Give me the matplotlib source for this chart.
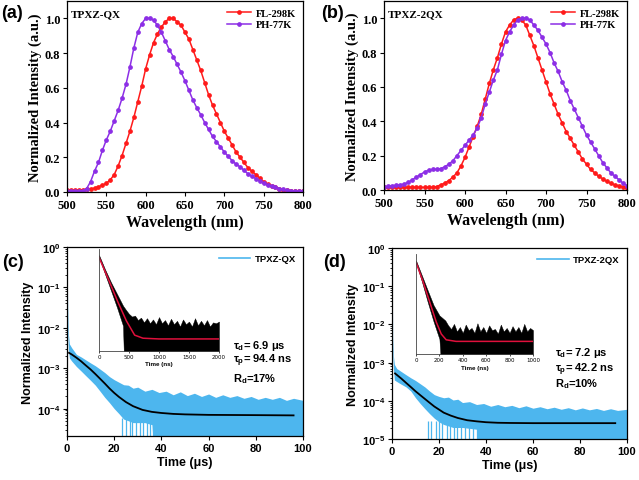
import numpy as np
import matplotlib
matplotlib.use('Agg')
import matplotlib.pyplot as plt
from matplotlib.ticker import FixedLocator, FuncFormatter, NullFormatter, LogLocator

plt.rcParams['mathtext.fontset'] = 'custom'
plt.rcParams['mathtext.rm'] = 'Liberation Sans:bold'
plt.rcParams['mathtext.it'] = 'Liberation Sans:bold'
plt.rcParams['mathtext.bf'] = 'Liberation Sans:bold'

SERIF = 'Liberation Serif'
SANS = 'Liberation Sans'
RED = '#ff1a1a'
PUR = '#8c2ee6'
CYAN = '#4db6ee'
FIT_RED = '#e0103c'

# ---------------- steady-state spectra (5 nm step) ----------------
wl = np.arange(500, 801, 5)

fl_qx = [0.01, 0.01, 0.01, 0.01, 0.012, 0.015, 0.018, 0.022, 0.03, 0.04,
         0.05, 0.07, 0.1, 0.15, 0.21, 0.28, 0.35, 0.43, 0.52, 0.61,
         0.71, 0.79, 0.86, 0.91, 0.95, 0.98, 1.0, 1.0, 0.98, 0.96,
         0.92, 0.88, 0.82, 0.76, 0.70, 0.63, 0.56, 0.50, 0.45, 0.40,
         0.35, 0.31, 0.27, 0.23, 0.20, 0.17, 0.14, 0.12, 0.10, 0.08,
         0.06, 0.045, 0.035, 0.027, 0.02, 0.014, 0.01, 0.008, 0.006, 0.004,
         0.003]
ph_qx = [0.005, 0.005, 0.005, 0.005, 0.008, 0.02, 0.06, 0.12, 0.17, 0.24,
         0.30, 0.35, 0.41, 0.47, 0.54, 0.62, 0.72, 0.83, 0.92, 0.97,
         1.0, 1.0, 0.99, 0.96, 0.92, 0.87, 0.82, 0.78, 0.735, 0.69,
         0.64, 0.585, 0.53, 0.485, 0.445, 0.40, 0.36, 0.32, 0.29, 0.26,
         0.23, 0.205, 0.18, 0.16, 0.145, 0.125, 0.105, 0.09, 0.077, 0.063,
         0.05, 0.04, 0.033, 0.026, 0.02, 0.015, 0.01, 0.008, 0.006, 0.005,
         0.004]
fl_2qx = [0.015] * 13 + [
         0.02, 0.03, 0.04, 0.055, 0.075, 0.10, 0.14, 0.19, 0.25, 0.31,
         0.37, 0.44, 0.53, 0.62, 0.70, 0.77, 0.85, 0.92, 0.96, 0.99,
         1.0, 0.99, 0.96, 0.90, 0.84, 0.77, 0.70, 0.63, 0.56, 0.50,
         0.44, 0.39, 0.34, 0.30, 0.26, 0.22, 0.18, 0.15, 0.12, 0.10,
         0.08, 0.065, 0.05, 0.04, 0.03, 0.025, 0.018, 0.012]
ph_2qx = [0.02, 0.022, 0.025, 0.027, 0.03, 0.035, 0.045, 0.06, 0.075, 0.09,
          0.105, 0.115, 0.12, 0.12, 0.125, 0.135, 0.15, 0.17, 0.20, 0.23,
          0.26, 0.29, 0.32, 0.36, 0.42, 0.50, 0.57, 0.64, 0.70, 0.79,
          0.87, 0.92, 0.96, 0.99, 1.0, 1.0, 0.99, 0.96, 0.93, 0.89,
          0.85, 0.80, 0.74, 0.69, 0.63, 0.58, 0.52, 0.47, 0.42, 0.37,
          0.32, 0.28, 0.24, 0.20, 0.16, 0.13, 0.10, 0.08, 0.06, 0.04,
          0.025]

# ---------------- transient decay (µs) ----------------
t_env = [0, 0.3, 0.6, 1, 2, 4, 6, 8, 10, 12, 14, 16, 18, 20, 22, 24, 26, 28, 30,
         33, 36, 39, 42, 45, 48, 51, 54, 57, 60, 63, 66, 69, 72, 75, 78, 81, 84,
         87, 90, 93, 96, 100]
FLOOR = 1e-7
hi_qx = [1.0, 0.03, 7e-3, 4e-3, 3.2e-3, 2.2e-3, 1.9e-3, 1.6e-3, 1.35e-3, 1.15e-3,
         9.5e-4, 7.8e-4, 6.2e-4, 5.2e-4, 4.5e-4, 3.9e-4, 3.8e-4, 3.2e-4, 3.4e-4,
         2.7e-4, 3.0e-4, 2.5e-4, 2.7e-4, 2.2e-4, 2.6e-4, 2.1e-4, 2.4e-4, 2.0e-4,
         2.3e-4, 1.9e-4, 2.2e-4, 1.9e-4, 2.1e-4, 1.8e-4, 2.0e-4, 1.7e-4, 1.9e-4,
         1.7e-4, 1.9e-4, 1.6e-4, 1.8e-4, 1.6e-4]
lo_qx = [0.5, 8e-3, 3e-3, 1.8e-3, 1.5e-3, 1.1e-3, 8.5e-4, 6.5e-4, 5e-4, 3.8e-4,
         2.7e-4, 1.9e-4, 1.4e-4, 1.0e-4, 7.5e-5, 5.5e-5, 5e-5, 4.5e-5, 4.5e-5,
         4.5e-5, 4e-5] + [FLOOR] * 21
spk_qx = [23.5, 24.8, 26.5, 27.6, 29.3, 30.8, 32.2, 33.9, 35.1, 36.6, 37.8]
spk_top_qx = 6e-5
fit_t_qx = [0.85, 2, 4, 6, 8, 10, 12, 14, 16, 18, 20, 22, 25, 28, 32, 36, 40, 45,
            50, 60, 80, 96]
fit_qx = [2.4e-3, 2.19e-3, 1.82e-3, 1.48e-3, 1.17e-3, 9.3e-4, 7.2e-4, 5.5e-4,
          4.2e-4, 3.16e-4, 2.45e-4, 1.95e-4, 1.45e-4, 1.15e-4, 9.3e-5, 8.3e-5,
          7.8e-5, 7.4e-5, 7.2e-5, 7.0e-5, 6.9e-5, 6.8e-5]

hi_2qx = [1.0, 5e-3, 1.5e-3, 9e-4, 7e-4, 5.8e-4, 4.8e-4, 4.0e-4, 3.4e-4, 2.8e-4,
          2.3e-4, 1.8e-4, 1.45e-4, 1.3e-4, 1.2e-4, 1.25e-4, 1.05e-4, 1.1e-4, 9e-5,
          9.5e-5, 8e-5, 8.5e-5, 7.2e-5, 8e-5, 7e-5, 7.6e-5, 6.6e-5, 7.4e-5,
          6.4e-5, 7e-5, 6.2e-5, 6.8e-5, 6e-5, 6.6e-5, 5.8e-5, 6.5e-5, 5.8e-5,
          6.3e-5, 5.6e-5, 6.2e-5, 5.6e-5, 6e-5]
lo_2qx = [0.3, 2e-3, 7e-4, 3.5e-4, 3.2e-4, 2.7e-4, 2.3e-4, 1.8e-4, 1.2e-4, 8.5e-5,
          6.2e-5, 4.6e-5, 3.5e-5, 2.8e-5, 2.4e-5, 2.2e-5, 2.0e-5, 2.0e-5, 2.0e-5,
          1.9e-5, 1.8e-5] + [FLOOR] * 21
spk_2qx = [15.5, 16.8, 18.6, 20.1, 21.4, 23.2, 24.7, 26.3, 27.5, 29.2, 31.0,
           32.6, 34.4, 36.1, 37.5]
spk_top_2qx = 3e-5
fit_t_2qx = [1.3, 2, 4, 6, 8, 10, 12, 14, 16, 18, 20, 22, 25, 28, 32, 36, 40, 45,
             50, 60, 80, 95]
fit_2qx = [5.2e-4, 4.8e-4, 3.8e-4, 2.95e-4, 2.3e-4, 1.78e-4, 1.41e-4, 1.12e-4,
           8.9e-5, 7.1e-5, 5.9e-5, 4.9e-5, 4.1e-5, 3.55e-5, 3.1e-5, 2.9e-5,
           2.75e-5, 2.66e-5, 2.63e-5, 2.6e-5, 2.6e-5, 2.6e-5]

# ---------------- insets (ns) ----------------
ti_qx = [0, 100, 200, 300, 400] + list(range(450, 2001, 50))
ihi_qx = [0.58, 0.16, 0.049, 0.017, 5.9e-3, 4e-3, 2.8e-3, 2.2e-3, 2.4e-3, 1.6e-3,
          2.0e-3, 1.3e-3, 1.9e-3, 1.2e-3, 1.7e-3, 1.1e-3, 2.1e-3, 1.2e-3, 1.6e-3,
          1.0e-3, 1.8e-3, 1.1e-3, 1.5e-3, 9e-4, 1.7e-3, 1.1e-3, 1.4e-3, 9e-4,
          1.9e-3, 1.0e-3, 1.5e-3, 1.0e-3, 1.6e-3, 9e-4, 1.3e-3, 1.2e-3, 1.4e-3]
ilo_qx = [0.47, 0.104, 0.023, 5e-3, 9.6e-4] + [FLOOR] * 32
ifit_t_qx = [0, 178, 317, 456, 594, 733, 1000, 2000]
ifit_qx = [0.47, 0.049, 8e-3, 1.5e-3, 4.1e-4, 3.1e-4, 2.9e-4, 2.9e-4]

ti_2qx = [0, 50, 100, 150, 200, 250] + list(range(275, 1001, 25))
ihi_2qx = [0.55, 0.14, 0.035, 9e-3, 3.5e-3, 2.2e-3, 1.4e-3, 1.0e-3, 1.6e-3, 8e-4,
           1.2e-3, 7e-4, 1.5e-3, 9e-4, 1.1e-3, 7e-4, 1.7e-3, 8e-4, 1.2e-3, 7e-4,
           1.4e-3, 9e-4, 1.0e-3, 6.5e-4, 1.5e-3, 8e-4, 1.1e-3, 7e-4, 1.3e-3, 8e-4,
           1.2e-3, 7e-4, 1.6e-3, 8e-4, 1.1e-3, 9e-4]
ilo_2qx = [0.45, 0.08, 0.012, 2e-3, 4e-4] + [FLOOR] * 31
ifit_t_2qx = [0, 62, 118, 174, 216, 258, 342, 1000]
ifit_2qx = [0.47, 0.074, 0.0117, 1.86e-3, 6.3e-4, 3.7e-4, 3.2e-4, 3.2e-4]

W, H = 639, 481


def rect(l, t, r, b):
    return [l / W, 1 - b / H, (r - l) / W, (b - t) / H]


fig = plt.figure(figsize=(W / 100, H / 100), dpi=100)


def spectrum(ax, red, pur, name):
    ax.plot(wl, red, '-o', color=RED, lw=1.1, ms=2.4, label='FL-298K')
    ax.plot(wl, pur, '-o', color=PUR, lw=1.1, ms=2.4, label='PH-77K')
    ax.set_xlim(500, 800)
    ax.set_ylim(0, 1.1)
    ax.set_xticks(range(500, 801, 50))
    ax.set_yticks([0, 0.2, 0.4, 0.6, 0.8, 1.0])
    ax.set_yticklabels(['0.0', '0.2', '0.4', '0.6', '0.8', '1.0'])
    ax.tick_params(direction='out', length=3, width=0.8, pad=2)
    for lab in ax.get_xticklabels() + ax.get_yticklabels():
        lab.set_fontfamily(SERIF)
        lab.set_fontweight('bold')
        lab.set_fontsize(9)
    ax.set_xlabel('Wavelength (nm)', family=SERIF, weight='bold', fontsize=11.5, labelpad=2)
    ax.set_ylabel('Normalized Intensity (a.u.)', family=SERIF, weight='bold', fontsize=10.5, labelpad=2)
    ax.text(0.015, 0.935, name, transform=ax.transAxes, family=SERIF, weight='bold',
            fontsize=8, va='center')
    ax.legend(loc='upper right', frameon=False, prop={'family': SERIF, 'weight': 'bold', 'size': 7.5},
              handlelength=2.3, labelspacing=0.25, borderaxespad=0.3, handletextpad=0.4)
    for s in ax.spines.values():
        s.set_linewidth(0.9)


def decay(ax, t_hi, hi, lo, spikes, spk_top, ft, fv, ymin, ytop, name):
    ax.fill_between(t_hi, lo, hi, color=CYAN, lw=0)
    ax.vlines(spikes, FLOOR, spk_top, colors=CYAN, lw=0.9)
    ax.plot([], [], color=CYAN, lw=1.2, label=name)
    ax.plot(ft, fv, color='black', lw=1.3)
    ax.set_yscale('log')
    ax.set_xlim(0, 100)
    ax.set_ylim(ymin, 1)
    ax.set_xticks(range(0, 101, 20))
    ax.yaxis.set_major_locator(FixedLocator([10.0 ** k for k in range(ytop, 1)]))
    ax.yaxis.set_major_formatter(FuncFormatter(lambda v, p: r'$10^{%d}$' % round(np.log10(v))))
    ax.yaxis.set_minor_locator(LogLocator(base=10, subs=np.arange(2, 10)))
    ax.yaxis.set_minor_formatter(NullFormatter())
    ax.tick_params(direction='out', length=3, width=0.8, pad=2, labelsize=8)
    ax.tick_params(which='minor', direction='out', length=1.5, width=0.6)
    ax.set_xlabel('Time (μs)', family=SANS, weight='bold', fontsize=9, labelpad=2)
    ax.set_ylabel('Normalized Intensity', family=SANS, weight='bold', fontsize=9, labelpad=2)
    ax.legend(loc='upper right', frameon=False, prop={'family': SANS, 'weight': 'bold', 'size': 6.8},
              handlelength=3.3, borderaxespad=0.35, handletextpad=0.5)
    for s in ax.spines.values():
        s.set_linewidth(0.9)


def inset(r, ti, ihi, ilo, ft, fv, xmax, xticks):
    ax = fig.add_axes(r)
    ax.fill_between(ti, ilo, ihi, color='black', lw=0.3)
    ax.plot(ft, fv, color=FIT_RED, lw=1.1)
    ax.set_yscale('log')
    ax.set_xlim(0, xmax)
    ax.set_ylim(1e-4, 1)
    ax.set_xticks(xticks)
    ax.set_yticks([])
    ax.yaxis.set_minor_locator(FixedLocator([]))
    ax.tick_params(axis='x', direction='out', length=1.5, width=0.5, pad=1, labelsize=4)
    ax.set_xlabel('Time (ns)', family=SANS, weight='bold', fontsize=4.5, labelpad=1.5)
    ax.spines['top'].set_visible(False)
    ax.spines['right'].set_visible(False)
    for s in ('left', 'bottom'):
        ax.spines[s].set_linewidth(0.6)
        ax.spines[s].set_color('#444444')
    ax.patch.set_alpha(0)
    return ax


ax_a = fig.add_axes(rect(67, 2, 303, 193))
spectrum(ax_a, fl_qx, ph_qx, 'TPXZ-QX')
ax_b = fig.add_axes(rect(384, 2, 627, 191))
spectrum(ax_b, fl_2qx, ph_2qx, 'TPXZ-2QX')

ax_c = fig.add_axes(rect(67, 248, 303, 437))
decay(ax_c, t_env, hi_qx, lo_qx, spk_qx, spk_top_qx, fit_t_qx, fit_qx, 2.1e-5, -4, 'TPXZ-QX')
ax_d = fig.add_axes(rect(392, 249, 627, 440))
decay(ax_d, t_env, hi_2qx, lo_2qx, spk_2qx, spk_top_2qx, fit_t_2qx, fit_2qx, 1e-5, -5, 'TPXZ-2QX')
for lab in ax_c.get_xticklabels() + ax_d.get_xticklabels():
    lab.set_fontfamily(SANS)
    lab.set_fontweight('bold')

inset(rect(99, 250, 219, 351.7), ti_qx, ihi_qx, ilo_qx, ifit_t_qx, ifit_qx, 2000,
      [0, 500, 1000, 1500, 2000])
inset(rect(416, 255, 533, 355), ti_2qx, ihi_2qx, ilo_2qx, ifit_t_2qx, ifit_2qx, 1000,
      [0, 200, 400, 600, 800, 1000])

txt = dict(family=SANS, weight='bold', fontsize=8, va='center', ha='left')
fig.text(233 / W, 1 - 346 / H, r'$\tau_d$= 6.9 μs', **txt)
fig.text(233 / W, 1 - 361 / H, r'$\tau_p$= 94.4 ns', **txt)
fig.text(233 / W, 1 - 379 / H, r'$R_d$=17%', **txt)
fig.text(555 / W, 1 - 353 / H, r'$\tau_d$= 7.2 μs', **txt)
fig.text(555 / W, 1 - 370 / H, r'$\tau_p$= 42.2 ns', **txt)
fig.text(555 / W, 1 - 384 / H, r'$R_d$=10%', **txt)

lab = dict(family=SANS, weight='bold', fontsize=13, va='center', ha='left')
fig.text(1 / W, 1 - 14 / H, '(a)', **lab)
fig.text(321 / W, 1 - 14 / H, '(b)', **lab)
fig.text(2 / W, 1 - 263 / H, '(c)', **lab)
fig.text(323 / W, 1 - 263 / H, '(d)', **lab)

fig.savefig('out.png', dpi=100)
